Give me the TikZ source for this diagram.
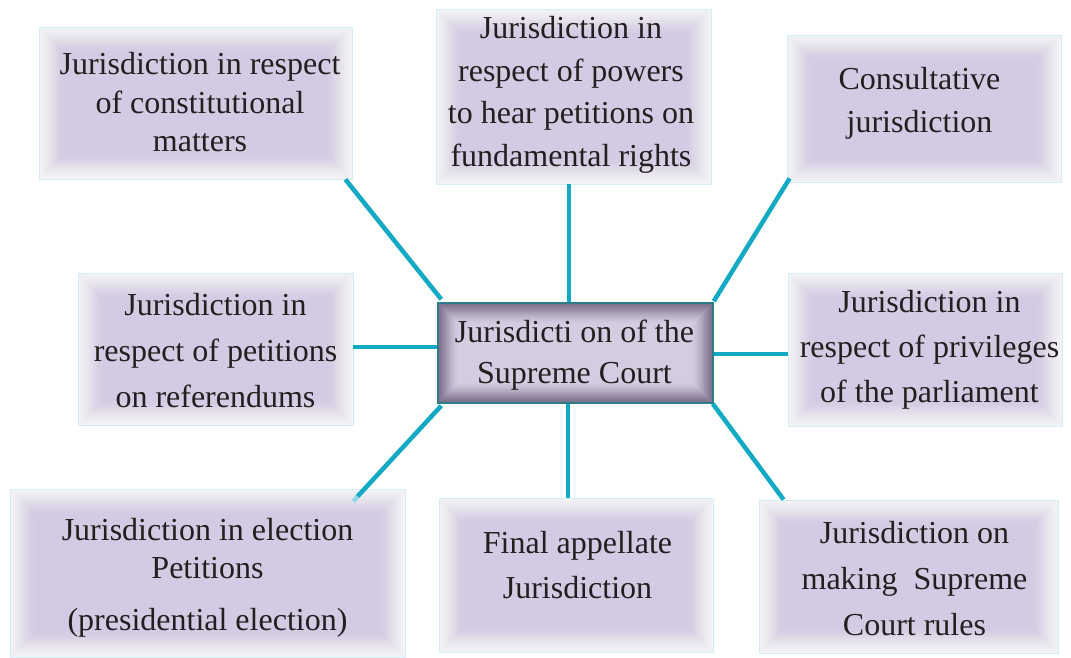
\documentclass[tikz,border=0pt]{standalone}
\usepackage{fontspec}
\setmainfont{Liberation Serif}
\usetikzlibrary{calc}
\definecolor{linecyan}{HTML}{12A9C4}
\definecolor{boxfill}{HTML}{D3CBE3}
\definecolor{edgecyan}{HTML}{CFEFF4}
\definecolor{textcol}{HTML}{231F20}
\definecolor{centerfill}{HTML}{D4CCE1}
\definecolor{centershade}{HTML}{6A5D76}
\definecolor{centeredge}{HTML}{2E7C8A}
\newcommand\mylines[2]{\fontsize{32}{#1}\selectfont\begin{tabular}[t]{@{}c@{}}#2\end{tabular}}
\begin{document}
\begin{tikzpicture}[x=1pt,y=-1pt,
  outerbox/.style={draw=edgecyan, line width=0.8pt, fill=boxfill, inner sep=0pt,
    path picture={\foreach \w [evaluate=\w as \o using {0.15*(1-\w/58)}] in {2,4,...,56}{\draw[white,opacity=\o,line width=\w pt]
      (path picture bounding box.south west) rectangle (path picture bounding box.north east);}}},
  centerbox/.style={draw=centeredge, line width=1.5pt, fill=centerfill, inner sep=0pt,
    path picture={\foreach \w [evaluate=\w as \o using {0.13*(1-\w/44)}] in {2,4,...,42}{\draw[centershade,opacity=\o,line width=\w pt]
      (path picture bounding box.south west) rectangle (path picture bounding box.north east);}}},
  txt/.style={anchor=base, inner sep=0pt, text=textcol},
  link/.style={draw=linecyan, line width=4.5pt, line cap=butt}
  ]
\useasboundingbox (0,0) rectangle (1071,658);

% boxes
\node[outerbox, minimum width=313pt, minimum height=152pt] (tl) at (195.5,103) {};
\node[outerbox, minimum width=275pt, minimum height=175pt] (tm) at (573.5,96.5) {};
\node[outerbox, minimum width=274pt, minimum height=147pt] (tr) at (924,108.5) {};
\node[outerbox, minimum width=275pt, minimum height=152pt] (ml) at (215.5,349) {};
\node[outerbox, minimum width=274pt, minimum height=153pt] (mr) at (925,349.5) {};
\node[outerbox, minimum width=395pt, minimum height=168pt] (bl) at (207.5,573) {};
\node[outerbox, minimum width=274pt, minimum height=154pt] (bm) at (576,575) {};
\node[outerbox, minimum width=299pt, minimum height=153pt] (br) at (908.5,576.5) {};
\node[centerbox, minimum width=275pt, minimum height=100pt] (c) at (575.5,353) {};

% connector helper coordinates
\coordinate (tmx) at (569,0);
\coordinate (bmx) at (568,0);
\coordinate (mly) at (0,347);
\coordinate (mry) at (0,354);
\coordinate (blend) at ($(bl.north east)+(-48,8)$);
\coordinate (blfade) at ($(bl.north east)+(-52,13)$);

% connectors
\draw[link] ($(c.north west)+(4,-3)$) -- ($(tl.south east)+(-7,0)$);
\draw[link] (c.north -| tmx) -- (tm.south -| tmx);
\draw[link] ($(c.north east)+(0,-1)$) -- ($(tr.south west)+(3,-4)$);
\draw[link] (c.west |- mly) -- (ml.east |- mly);
\draw[link] (c.east |- mry) -- (mr.west |- mry);
\draw[link] ($(c.south west)+(4,2)$) -- (blend);
\draw[link, draw=linecyan!45!white] (blend) -- (blfade);
\draw[link] (c.south -| bmx) -- (bm.north -| bmx);
\draw[link] ($(c.south east)+(-1,0)$) -- ($(br.north west)+(25,0)$);

% texts
\node[txt] (t1) at (200,75) {\mylines{38.5pt}{Jurisdiction in respect\\of constitutional\\matters}};
\node[txt] (t2) at (571,39) {\mylines{42.5pt}{Jurisdiction in\\respect of powers\\to hear petitions on\\fundamental rights}};
\node[txt] (t3) at (919.5,90) {\mylines{43pt}{Consultative\\jurisdiction}};
\node[txt] (t4) at (215.5,315) {\mylines{46pt}{Jurisdiction in\\respect of petitions\\on referendums}};
\node[txt] (tc) at (574.5,342) {\mylines{41pt}{Jurisdicti on of the\\Supreme Court}};
\node[txt] (t6) at (929.5,312) {\mylines{45pt}{Jurisdiction in\\respect of privileges\\of the parliament}};
\node[txt] (t7) at (207.5,540) {\mylines{38pt}{Jurisdiction in election\\Petitions\\[14pt](presidential election)}};
\node[txt] (t8) at (577.5,553) {\mylines{45pt}{Final appellate\\Jurisdiction}};
\node[txt] (t9) at (914.5,543) {\mylines{46pt}{Jurisdiction on\\making~ Supreme\\Court rules}};
\end{tikzpicture}
\end{document}
